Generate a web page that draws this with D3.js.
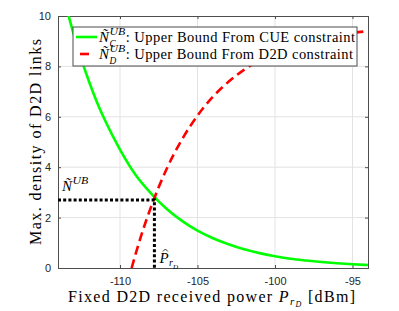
<!DOCTYPE html>
<html>
<head>
<meta charset="utf-8">
<script src="https://cdn.jsdelivr.net/npm/d3@7"></script>
<style>
    body { margin: 0; background: #fff; }
    .axis text { font-family: "Liberation Sans", Arial, sans-serif; font-size: 11px; fill: #262626; }
    .serif { font-family: "Liberation Serif", "DejaVu Serif", serif; fill: #000; }
</style>
</head>
<body>
<svg id="chart"></svg>
<script>
// values
const cueX = [-113.4, -113, -112.5, -112, -111.5, -111, -110, -109, -108, -107, -106, -105, -104, -103, -102, -101, -100, -99, -98, -97, -96, -95, -94];
const cueN = [10.2, 9.3, 8.3, 7.4, 6.6, 5.9, 4.7, 3.7, 2.96, 2.35, 1.87, 1.48, 1.18, 0.94, 0.74, 0.59, 0.47, 0.37, 0.30, 0.24, 0.19, 0.15, 0.12];

const d2dX = [-109.25, -109, -108.5, -108, -107, -106, -105, -104, -103, -102, -101, -100, -99, -98, -97, -96, -95, -94];
const d2dN = [0, 0.54, 1.54, 2.42, 3.92, 5.10, 6.05, 6.80, 7.39, 7.86, 8.24, 8.54, 8.78, 8.96, 9.11, 9.23, 9.33, 9.40];

const xTicks = [-110, -105, -100, -95];
const yTicks = [0, 2, 4, 6, 8, 10];
const crossing = { x: -107.78, n: 2.7 };

const config = {
    width: 399,
    height: 311,
    margin: { top: 16, right: 31, bottom: 43, left: 58 }
};

const innerW = config.width - config.margin.left - config.margin.right;
const innerH = config.height - config.margin.top - config.margin.bottom;

const svg = d3.select("#chart")
    .attr("width", config.width)
    .attr("height", config.height);

const xScale = d3.scaleLinear().domain([-114, -94]).range([0, innerW]);
const yScale = d3.scaleLinear().domain([0, 10]).range([innerH, 0]);

const chart = svg.append("g")
    .attr("transform", `translate(${config.margin.left},${config.margin.top})`);

chart.append("clipPath").attr("id", "plot-clip")
    .append("rect").attr("width", innerW).attr("height", innerH);

// grid
chart.append("g").selectAll("line")
    .data(xTicks).enter().append("line")
    .attr("x1", d => xScale(d)).attr("x2", d => xScale(d))
    .attr("y1", 0).attr("y2", innerH)
    .style("stroke", "#e3e3e3").style("stroke-width", 1);
chart.append("g").selectAll("line")
    .data(yTicks.slice(1, -1)).enter().append("line")
    .attr("x1", 0).attr("x2", innerW)
    .attr("y1", d => yScale(d)).attr("y2", d => yScale(d))
    .style("stroke", "#e3e3e3").style("stroke-width", 1);

// axes (ticks inward, mirrored on top/right)
const xAxis = d3.axisBottom(xScale).tickValues(xTicks).tickSize(-3).tickPadding(9).tickFormat(d => d.toString());
const yAxis = d3.axisLeft(yScale).tickValues(yTicks).tickSize(-3).tickPadding(7).tickFormat(d => d.toString());

const xAxisG = chart.append("g").attr("class", "axis").attr("transform", `translate(0,${innerH})`).call(xAxis);
const yAxisG = chart.append("g").attr("class", "axis").call(yAxis);
const xTopG = chart.append("g").attr("class", "axis").call(d3.axisTop(xScale).tickValues(xTicks).tickSize(-3).tickFormat(""));
const yRightG = chart.append("g").attr("class", "axis").attr("transform", `translate(${innerW},0)`)
    .call(d3.axisRight(yScale).tickValues(yTicks).tickSize(-3).tickFormat(""));

[xAxisG, yAxisG, xTopG, yRightG].forEach(g => {
    g.select(".domain").style("stroke", "#4d4d4d").style("stroke-width", 1);
    g.selectAll(".tick line").style("stroke", "#4d4d4d");
});

// curves
const line = d3.line()
    .x(d => xScale(d[0]))
    .y(d => yScale(d[1]))
    .curve(d3.curveMonotoneX);

const plot = chart.append("g").attr("clip-path", "url(#plot-clip)");

plot.append("path")
    .datum(cueX.map((x, i) => [x, cueN[i]]))
    .attr("d", line)
    .style("fill", "none")
    .style("stroke", "#00ff00")
    .style("stroke-width", 2.6);

plot.append("path")
    .datum(d2dX.map((x, i) => [x, d2dN[i]]))
    .attr("d", line)
    .style("fill", "none")
    .style("stroke", "#ff0000")
    .style("stroke-width", 2.6)
    .style("stroke-dasharray", "9,5");

// dotted guide lines
plot.append("path")
    .attr("d", `M${xScale(-114)},${yScale(crossing.n)}H${xScale(crossing.x)}V${yScale(0)}`)
    .style("fill", "none")
    .style("stroke", "#000")
    .style("stroke-width", 3)
    .style("stroke-dasharray", "3,2.2");

// helper: italic symbol with stacked sup/sub
function mathSym(g, x, y, base, sup, sub, size) {
    const t = g.append("text").attr("class", "serif")
        .attr("x", x).attr("y", y)
        .style("font-size", size + "px").style("font-style", "italic")
        .text(base);
    const w = t.node().getComputedTextLength();
    let extra = 0;
    if (sup) {
        const s = g.append("text").attr("class", "serif")
            .attr("x", x + w + 0.5).attr("y", y - size * 0.45)
            .style("font-size", (size * 0.68) + "px").style("font-style", "italic")
            .attr("textLength", size * 1.05).attr("lengthAdjust", "spacingAndGlyphs")
            .text(sup);
        extra = Math.max(extra, size * 1.05);
    }
    if (sub) {
        const s = g.append("text").attr("class", "serif")
            .attr("x", x + w + 0.5).attr("y", y + size * 0.32)
            .style("font-size", (size * 0.62) + "px").style("font-style", "italic")
            .text(sub);
        extra = Math.max(extra, s.node().getComputedTextLength());
    }
    return x + w + extra + 1;
}

// annotations inside the plot
mathSym(chart, 4, yScale(crossing.n) - 9, "Ñ", "UB", null, 15);

const pX = xScale(crossing.x) + 5, pY = innerH - 5;
const pText = chart.append("text").attr("class", "serif")
    .attr("x", pX).attr("y", pY)
    .style("font-size", "15px").style("font-style", "italic").text("P");
const pw = pText.node().getComputedTextLength();
chart.append("path")
    .attr("d", `M${pX + 3.5},${pY - 11.5}l2.5,-2.5l2.5,2.5`)
    .style("fill", "none").style("stroke", "#000").style("stroke-width", 0.8);
chart.append("text").attr("class", "serif")
    .attr("x", pX + pw + 0.5).attr("y", pY + 3)
    .style("font-size", "10px").style("font-style", "italic").text("r");
chart.append("text").attr("class", "serif")
    .attr("x", pX + pw + 4.5).attr("y", pY + 6)
    .style("font-size", "7px").style("font-style", "italic").text("D");

// legend
const legend = svg.append("g").attr("transform", "translate(73,27)");
legend.append("rect")
    .attr("width", 284).attr("height", 39)
    .style("fill", "#fff").style("stroke", "#4d4d4d").style("stroke-width", 1);

const legendItems = [
    { sub: "C", text: ": Upper Bound From CUE constraint", color: "#00ff00", dash: false, y: 15, end: 282 },
    { sub: "D", text: ": Upper Bound From D2D constraint", color: "#ff0000", dash: true, y: 32, end: 280 }
];
legendItems.forEach(item => {
    legend.append("line")
        .attr("x1", item.dash ? 7 : 3).attr("x2", item.dash ? 16 : 24)
        .attr("y1", item.y - 5).attr("y2", item.y - 5)
        .style("stroke", item.color).style("stroke-width", 2.6);
    const nx = mathSym(legend, 26, item.y, "Ñ", "UB", item.sub, 15);
    legend.append("text").attr("class", "serif")
        .attr("x", nx).attr("y", item.y)
        .style("font-size", "14.5px")
        .attr("textLength", item.end - nx).attr("lengthAdjust", "spacing")
        .text(item.text);
});

// axis titles
const xLabel = svg.append("text").attr("class", "serif")
    .attr("x", 68).attr("y", 302)
    .attr("textLength", 287).attr("lengthAdjust", "spacing")
    .style("font-size", "16px");
xLabel.append("tspan").text("Fixed D2D received power ");
xLabel.append("tspan").style("font-style", "italic").text("P");
xLabel.append("tspan").style("font-style", "italic").style("font-size", "11px").attr("dy", 3).text("r");
xLabel.append("tspan").style("font-style", "italic").style("font-size", "8px").attr("dy", 2).text("D");
xLabel.append("tspan").attr("dy", -5).text(" [dBm]");

svg.append("text").attr("class", "serif")
    .attr("transform", `translate(41,${config.margin.top + innerH / 2}) rotate(-90)`)
    .attr("text-anchor", "middle")
    .attr("textLength", 206).attr("lengthAdjust", "spacing")
    .style("font-size", "16px")
    .text("Max. density of D2D links");
</script>
</body>
</html>
